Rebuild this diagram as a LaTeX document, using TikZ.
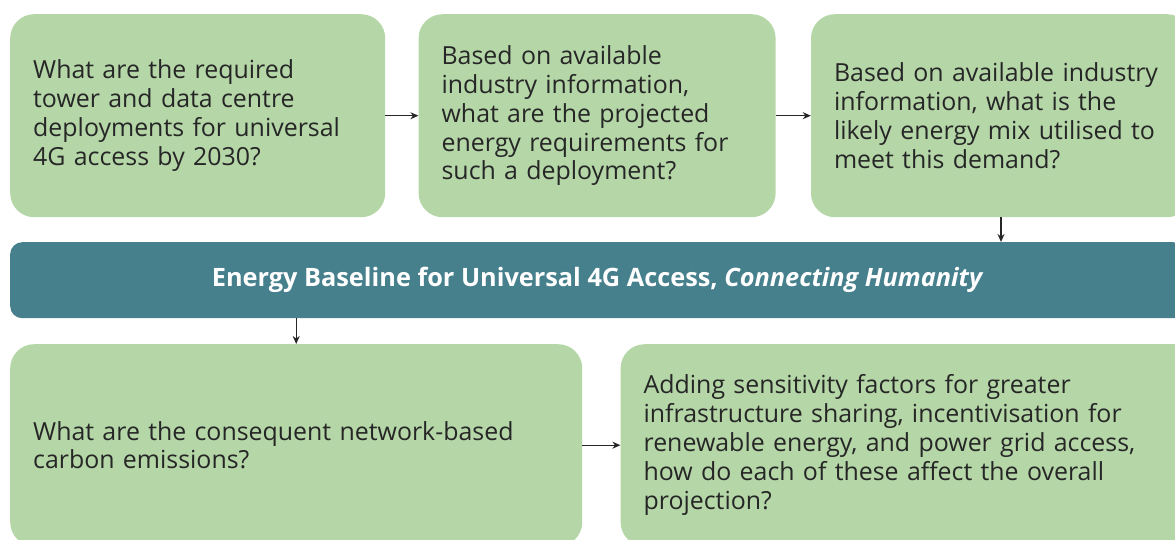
\documentclass[tikz,border=0pt]{standalone}
\usepackage{fontspec}
\setmainfont{Open Sans}
\usetikzlibrary{positioning,arrows.meta}
\definecolor{boxgreen}{RGB}{181,215,168}
\definecolor{bannerteal}{RGB}{70,128,140}
\definecolor{qtext}{RGB}{38,38,38}
\begin{document}
\begin{tikzpicture}[x=1bp,y=-1bp,>={Stealth[length=8bp,width=7bp]},
	question/.style={fill=boxgreen,rounded corners=24bp,text=qtext,align=left,
		inner xsep=23bp,inner ysep=0bp,
		font=\fontsize{25}{29}\selectfont},
	banner/.style={fill=bannerteal,rounded corners=12bp,text=white,align=center,
		minimum width=1175bp,minimum height=76bp,anchor=north west,
		font=\fontsize{25.4}{30}\selectfont\bfseries},
	link/.style={->,line width=1.4bp,black!85}]
	\useasboundingbox (0,0) rectangle (1175,540);
	% top row of questions
	\node[question,text width=329bp,minimum height=203bp,anchor=north west] (q1) at (10,14)
		{What are the required\\tower and data centre\\deployments for universal\\4G access by 2030?};
	\node[question,text width=311bp,minimum height=203bp,right=33bp of q1] (q2)
		{Based on available\\industry information,\\what are the projected\\energy requirements for\\such a deployment?};
	\node[question,text width=334bp,minimum height=203bp,right=35bp of q2] (q3)
		{Based on available industry\\information, what is the\\likely energy mix utilised to\\meet this demand?};
	% baseline banner
	\node[banner] (base) at (10,242)
		{Energy Baseline for Universal 4G Access, \textit{Connecting Humanity}};
	% bottom row
	\node[question,text width=526bp,minimum height=202bp,anchor=north west] (q4) at (10,344)
		{What are the consequent network-based\\carbon emissions?};
	\node[question,text width=534bp,minimum height=202bp,right=38bp of q4] (q5)
		{Adding sensitivity factors for greater\\infrastructure sharing, incentivisation for\\renewable energy, and power grid access,\\how do each of these affect the overall\\projection?};
	\draw[link] (q1) -- (q2);
	\draw[link] (q2) -- (q3);
	\draw[link] (q3.south) -- (q3.south |- base.north);
	\draw[link] (base.south -| q4.north) -- (q4.north);
	\draw[link] (q4) -- (q5);
\end{tikzpicture}
\end{document}
